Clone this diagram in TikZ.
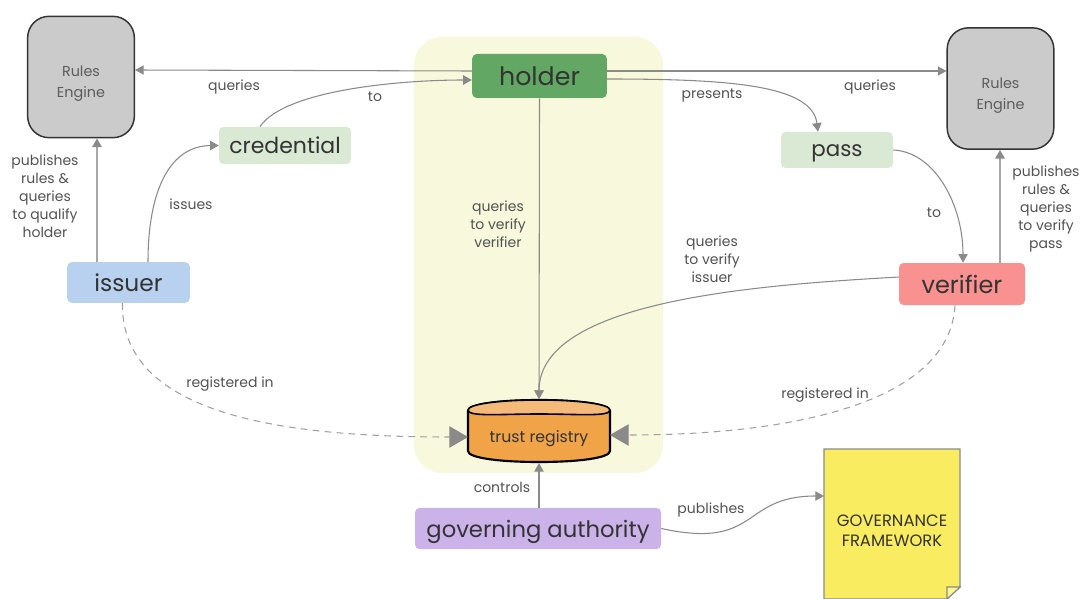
\documentclass[tikz,border=0pt]{standalone}
\usepackage{fontspec}
\setmainfont{Poppins}
\usetikzlibrary{arrows.meta,calc}
\definecolor{panel}{HTML}{F8F8DC}
\definecolor{cgray}{HTML}{8A8A8A}
\definecolor{engine}{HTML}{CBCBCB}
\definecolor{txt}{HTML}{333333}
\tikzset{
  x=0.75pt,y=-0.75pt,
  ent/.style={rounded corners=3.5pt,inner sep=0pt,text=txt,font=\fontsize{16.5}{20}\selectfont},
  engbox/.style={draw=black!80,line width=1.1pt,fill=engine,rounded corners=16pt,inner sep=0pt,minimum width=80pt,minimum height=91pt,align=center,text=txt!80,font=\fontsize{10.8}{15.7}\selectfont},
  lbl/.style={inner sep=0pt,align=center,text=txt!85,font=\fontsize{10.5}{13.5}\selectfont},
  conn/.style={draw=cgray,line width=0.8pt,-{Triangle[length=6.5pt,width=7pt]}},
  thick conn/.style={draw=cgray!75,line width=1.4pt,-{Triangle[length=6.5pt,width=7pt,color=cgray]}},
  dconn/.style={draw=cgray!80,line width=0.8pt,dash pattern=on 5pt off 4pt,-{Triangle[length=14pt,width=16pt,color=cgray]}},
}
\begin{document}
\begin{tikzpicture}
\useasboundingbox (0,0) rectangle (1081,599);
\fill[panel,rounded corners=21pt] (414,37) rectangle (663,473);

\node[engbox] (rl) at (81,77) {\rule{0pt}{18pt}Rules\\Engine};
\node[engbox] (rr) at (1000.5,88.5) {\rule{0pt}{18pt}Rules\\Engine};
\node[ent,fill={rgb,255:red,184;green,209;blue,238},minimum width=92pt,minimum height=30.5pt,font=\fontsize{17.5}{20}\selectfont] (issuer) at (128.5,282.5) {issuer};
\node[ent,fill={rgb,255:red,217;green,233;blue,211},minimum width=99pt,minimum height=28pt] (cred) at (285,145.5) {credential};
\node[ent,fill={rgb,255:red,98;green,168;blue,100},minimum width=101pt,minimum height=33pt,font=\fontsize{19}{20}\selectfont] (holder) at (539.5,76) {holder};
\node[ent,fill={rgb,255:red,217;green,233;blue,211},minimum width=84pt,minimum height=27pt,font=\fontsize{16}{18}\selectfont] (pass) at (837,150) {\rule{0pt}{14pt}pass};
\node[ent,fill={rgb,255:red,250;green,145;blue,145},minimum width=94.5pt,minimum height=31.5pt,font=\fontsize{18}{20}\selectfont] (verifier) at (962,284) {verifier};
\node[ent,fill={rgb,255:red,203;green,178;blue,233},minimum width=184.5pt,minimum height=31pt,font=\fontsize{17}{20}\selectfont] (gov) at (538,528.5) {\rule{0pt}{17.5pt}governing authority};

% trust registry cylinder
\path[draw=black,line width=1.6pt,fill={rgb,255:red,241;green,163;blue,72}]
  (468,411) -- (468,451)
  .. controls (468,458) and (500,462) .. (539,462)
  .. controls (578,462) and (610,458) .. (610,451)
  -- (610,411)
  .. controls (610,404) and (578,400) .. (539,400)
  .. controls (500,400) and (468,404) .. (468,411) -- cycle;
\path[draw=black,line width=1.2pt,fill={rgb,255:red,246;green,186;blue,120}]
  (468,410) .. controls (468,417) and (500,414) .. (539,414)
  .. controls (578,414) and (610,417) .. (610,410)
  .. controls (610,404) and (578,400) .. (539,400)
  .. controls (500,400) and (468,404) .. (468,410) -- cycle;
\node[inner sep=0pt,minimum width=106pt,minimum height=46pt,text=txt,font=\fontsize{11.8}{12}\selectfont] (trust) at (539,431) {\rule{0pt}{21pt}trust registry};

% governance document
\path[draw=cgray,line width=1pt,fill={rgb,255:red,249;green,236;blue,96}]
  (824,449) -- (960,449) -- (960,587) -- (947,599) -- (824,599) -- cycle;
\draw[cgray,line width=.8pt,fill={rgb,255:red,252;green,244;blue,150}] (960,587) -- (947,587) -- (947,599) -- cycle;
\node[inner sep=0pt,align=center,text=txt,font=\fontsize{12.3}{15.3}\selectfont] (doc) at (892,531) {GOVERNANCE\\FRAMEWORK};
\coordinate (docw) at (824,496);

% connectors
\draw[conn] ($(holder.west)+(0,-5)$) -- (rl.east |- 0,70);
\draw[conn] ($(holder.east)+(0,-5)$) -- (rr.west |- 0,71);
\draw[conn] ($(cred.north)+(-25,0)$) .. controls (285,90) and (400,80) .. ($(holder.west)+(0,4)$);
\draw[conn] ($(issuer.north)+(19.5,0)$) .. controls (148,190) and (170,146) .. (cred.west);
\draw[thick conn] ($(issuer.north)+(-31.5,0)$) -- (rl.south -| 97,0);
\draw[conn] ($(holder.east)+(0,3)$) .. controls (730,79) and (812,85) .. ($(pass.north)+(-19,0)$);
\draw[conn] (pass.east) .. controls (935,152) and (963,205) .. ($(verifier.north)+(1,0)$);
\draw[thick conn] ($(verifier.north)+(38,0)$) -- (rr.south -| 1000,0);
\draw[conn] (holder.south) -- (trust.north |- 0,399);
\draw[conn] ($(verifier.west)+(0,-7)$) .. controls (760,285) and (539,300) .. (trust.north |- 0,399);
\draw[conn] (gov.north -| 539,0) -- (trust.south |- 0,463);
\draw[dconn] ($(issuer.south)+(-6,0)$) .. controls (120,420) and (300,437) .. (trust.west |- 0,437);
\draw[dconn] ($(verifier.south)+(-7,0)$) .. controls (950,400) and (800,435) .. (trust.east |- 0,435);
\draw[conn] (gov.east) .. controls (760,550) and (740,496) .. (docw);

% labels
\node[lbl] (l1) at (234,87) {queries};
\node[lbl] (l2) at (375,97) {to};
\node[lbl] (l3) at (45,196) {publishes\\rules \&\\queries\\to qualify\\holder};
\node[lbl] (l4) at (191,204) {issues};
\node[lbl] (l5) at (498,224) {queries\\to verify\\verifier};
\node[lbl] (l6) at (712,96) {presents};
\node[lbl] (l7) at (870,87) {queries};
\node[lbl] (l8) at (934,213) {to};
\node[lbl] (l9) at (712,259) {queries\\to verify\\issuer};
\node[lbl] (l10) at (1046,209) {publishes\\rules \&\\queries\\to verify\\pass};
\node[lbl] (l11) at (230,384) {registered in};
\node[lbl] (l12) at (825,395) {registered in};
\node[lbl] (l13) at (502,487) {controls};
\node[lbl] (l14) at (711,510) {publishes};
\end{tikzpicture}
\end{document}
